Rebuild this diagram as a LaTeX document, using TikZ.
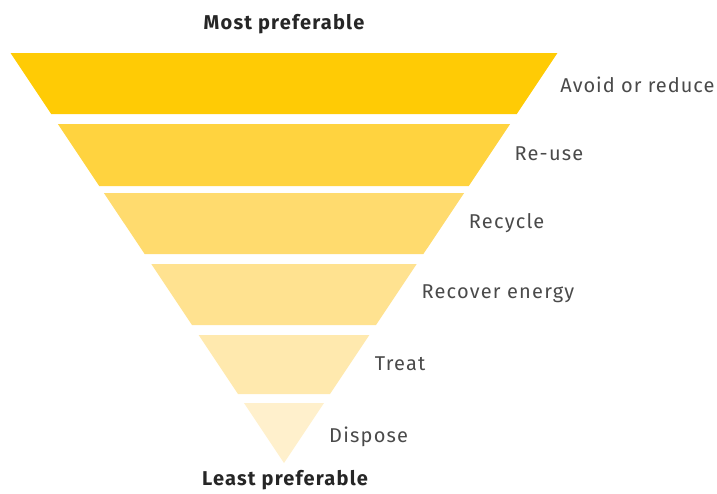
\documentclass[tikz,border=0pt]{standalone}
\usepackage{fontspec}
\setmainfont{Fira Sans}
\newfontfamily\spacedsans[LetterSpace=6]{Fira Sans}
\newfontfamily\tightsans[LetterSpace=5]{Fira Sans}
\definecolor{tierA}{HTML}{FFCB05}
\definecolor{tierB}{HTML}{FFD33F}
\definecolor{tierC}{HTML}{FFDB6E}
\definecolor{tierD}{HTML}{FFE290}
\definecolor{tierE}{HTML}{FFE9AE}
\definecolor{tierF}{HTML}{FFF0CC}
\definecolor{labelgrey}{HTML}{4A4A4A}
\begin{document}
\begin{tikzpicture}[x=1pt,y=-1pt,
  tierlabel/.style={anchor=west,text=labelgrey,font=\spacedsans\fontsize{20}{24}\selectfont,inner sep=0pt},
  endlabel/.style={text=black!85,font=\spacedsans\bfseries\fontsize{20}{24}\selectfont,inner sep=0pt}]
  \useasboundingbox (0,0) rectangle (717,493);
  % inverted pyramid: apex at (284,463), half-width grows 0.667 per unit of height
  \foreach \t/\b/\col/\txt/\nm/\dx/\dy in {
      53/114/tierA/{\tightsans Avoid or reduce}/avoid/-2/1,
      124/186/tierB/Re-use/reuse/0/-1,
      193/254/tierC/Recycle/recycle/0/0,
      264/325/tierD/Recover energy/recover/0/-1,
      335/394/tierE/Treat/treat/0/-1,
      403/463/tierF/Dispose/dispose/0/4} {
    \pgfmathsetmacro\wt{0.667*(463-\t)}
    \pgfmathsetmacro\wb{0.667*(463-\b)}
    \pgfmathsetmacro\ym{(\t+\b)/2}
    \pgfmathsetmacro\xm{284+0.667*(463-\ym)+25}
    \fill[\col] (284-\wt,\t) -- (284+\wt,\t) -- (284+\wb,\b) -- (284-\wb,\b) -- cycle;
    \node[tierlabel] (\nm) at (\xm+\dx,\ym+\dy) {\txt};
  }
  \node[endlabel] (most) at (284,24) {Most preferable};
  \node[endlabel] (least) at (285,480) {Least preferable};
\end{tikzpicture}
\end{document}
